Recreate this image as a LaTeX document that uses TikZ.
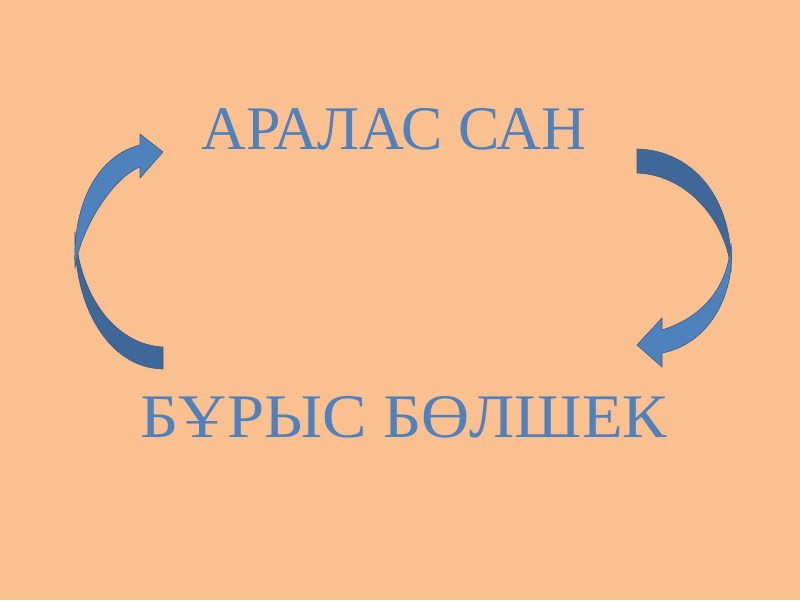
\documentclass[tikz,border=0pt]{standalone}
\usepackage{fontspec}
\setmainfont{Liberation Serif}
\usetikzlibrary{positioning}
\definecolor{peach}{HTML}{FAC090}
\definecolor{blueface}{HTML}{4F81BD}
\definecolor{blueback}{HTML}{3F6797}
\definecolor{blueedge}{HTML}{385D8A}

\begin{document}
\begin{tikzpicture}[x=1pt,y=-1pt,
  bigtext/.style={text=blueface,font=\fontsize{62}{70}\selectfont,inner sep=0pt,anchor=base},
  arrowfront/.style={fill=blueface,draw=blueedge,line width=0.6pt,line join=round},
  arrowback/.style={fill=blueback,draw=blueedge,line width=0.6pt,line join=round}]
\fill[peach] (0,0) rectangle (800,600);
\useasboundingbox (0,0) rectangle (800,600);
\node[bigtext](mixed) at (394,149) {АРАЛАС САН};
\node[bigtext](improper) at (404,437) {\scalebox{1.075}[1]{БҰРЫС БӨЛШЕК}};
% left arrow, going up
\draw[arrowback] (163,347) .. controls (118,345) and (80,300) .. (75,232)
  .. controls (73,305) and (108,368) .. (163,369) -- cycle;
\draw[arrowfront] (163,152) -- (140,134) -- (140,145)
  .. controls (100,155) and (72,200) .. (75,268)
  .. controls (80,230) and (112,178) .. (140,167) -- (140,178) -- cycle;
% right arrow, going down
\draw[arrowback] (637,149) .. controls (690,150) and (734,195) .. (731,272)
  .. controls (728,225) and (690,175) .. (637,173) -- cycle;
\draw[arrowfront] (637,345) -- (662,318) -- (662,330)
  .. controls (700,318) and (728,290) .. (731,243)
  .. controls (736,300) and (705,345) .. (662,353) -- (662,367) -- cycle;
\end{tikzpicture}
\end{document}
